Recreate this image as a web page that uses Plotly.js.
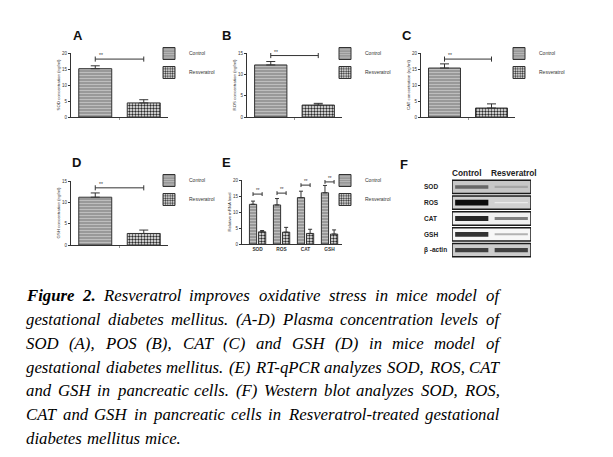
<!DOCTYPE html>
<html><head><meta charset="utf-8">
<script src="https://cdn.plot.ly/plotly-3.0.1.min.js"></script>
<style>body{margin:0;background:#fff}#chart{width:613px;height:457px}</style>
</head><body><div id="chart"></div>
<script>
// ---------------- DATA ----------------
const groups = ['Control', 'Resveratrol'];
// Panels A-D: plasma concentrations (ng/ml)
const plasmaLabels = ['SOD', 'ROS', 'CAT', 'GSH'];
const plasmaCtrl = [15.1, 12.2, 15.3, 11.2];
const plasmaCtrlErr = [0.9, 0.8, 1.3, 1.0];
const plasmaRes = [4.4, 2.8, 2.8, 2.7];
const plasmaResErr = [1.0, 0.4, 1.3, 0.8];
const plasmaSig = [18.1, 14.4, 18.1, 13.4];
const plasmaYMax = [20, 15, 20, 15];
const plasmaYTitles = ['SOD concentration (ng/ml)', 'ROS concentration (ng/ml)', 'CAT concentration (ng/ml)', 'GSH concentration (ng/ml)'];
const panelLetters = ['A', 'B', 'C', 'D', 'E', 'F'];
// Panel E: relative mRNA level
const mrnaGenes = ['SOD', 'ROS', 'CAT', 'GSH'];
const mrnaCtrl = [12.4, 12.2, 14.5, 16.0];
const mrnaCtrlErr = [1.0, 2.0, 2.0, 2.3];
const mrnaRes = [3.8, 3.7, 3.3, 3.1];
const mrnaResErr = [0.4, 1.5, 1.3, 1.3];
const mrnaSig = [15.6, 15.9, 18.4, 19.4];
const mrnaYTitle = 'Relative mRNA level';
// Panel F: western blot band intensities (0 = none, 1 = darkest)
const blotRows = ['SOD', 'ROS', 'CAT', 'GSH', 'β -actin'];
const blotCtrl = [0.6, 0.95, 0.85, 0.8, 0.75];
const blotRes = [0.35, 0.08, 0.5, 0.3, 0.75];
const blotBg = [0.22, 0.18, 0.06, 0.03, 0.2];
// Caption
const captionLines = [
  'Figure 2. Resveratrol improves oxidative stress in mice model of',
  'gestational diabetes mellitus. (A-D) Plasma concentration levels of',
  'SOD (A), POS (B), CAT (C) and GSH (D) in mice model of',
  'gestational diabetes mellitus. (E) RT-qPCR analyzes SOD, ROS, CAT',
  'and GSH in pancreatic cells. (F) Western blot analyzes SOD, ROS,',
  'CAT and GSH in pancreatic cells in Resveratrol-treated gestational',
  'diabetes mellitus mice.'
];
const captionBoldWords = 2;

// ---------------- STYLE / LAYOUT ----------------
const W = 613, H = 457;
const FONT = 'Liberation Sans, Arial, sans-serif';
const SERIF = 'Liberation Serif';
const px = v => v / W, py = v => 1 - v / H;
const INK = '#333';
const ctrlMarker = {color: '#a0a0a0', line: {color: INK, width: 1},
  pattern: {shape: '-', fgcolor: '#c2c2c2', bgcolor: '#999999', size: 3, solidity: 0.3}};
const resMarker = {color: '#ffffff', line: {color: INK, width: 1},
  pattern: {shape: '.', fgcolor: '#2a2a2a', bgcolor: '#ffffff', size: 3, solidity: 0.5}};

const traces = [], annotations = [], shapes = [];
const layout = {
  width: W, height: H, margin: {l: 0, r: 0, t: 0, b: 0},
  paper_bgcolor: '#fff', plot_bgcolor: 'rgba(0,0,0,0)',
  barmode: 'overlay', font: {family: FONT, color: INK}, showlegend: true,
  annotations, shapes
};
const sfx = n => (n === 1 ? '' : String(n));

function yAxisStyle(title) {
  return {showline: true, linecolor: INK, linewidth: 1, ticks: 'outside', ticklen: 2, tickwidth: 1,
    tickcolor: INK, tickfont: {size: 4.5, color: INK, family: FONT}, showgrid: false, zeroline: false,
    dtick: 5, title: {text: title, font: {size: 4.3, family: FONT, color: INK}, standoff: 1}, fixedrange: true};
}
function legendStyle(l, t) {
  return {x: px(l), y: py(t), xanchor: 'left', yanchor: 'top', bgcolor: 'rgba(0,0,0,0)',
    font: {size: 5, family: FONT, color: INK}, tracegroupgap: 0, itemclick: false, itemdoubleclick: false};
}
const plasmaBox = [[71, 168, 53, 117], [247, 342, 53, 117], [421, 515, 53, 117], [71, 168, 181, 245]];
const legendPos = [[149, 39], [325, 39], [499, 39], [149, 166], [325, 166]];
const letterPos = [[71, 25.5], [226, 25.5], [407, 25.5], [70, 163], [226, 162], [409.5, 164]];

// Panels A-D
plasmaLabels.forEach((lab, i) => {
  const n = i + 1, xa = 'x' + sfx(n), ya = 'y' + sfx(n), lg = 'legend' + sfx(n);
  const [l, r, t, b] = plasmaBox[i];
  layout['xaxis' + sfx(n)] = {domain: [px(l), px(r)], anchor: ya, range: [-0.5, 1.5], showline: true,
    linecolor: INK, linewidth: 1, ticks: 'outside', ticklen: 2, tickcolor: '#999', tickvals: [0.5],
    ticktext: [''], showgrid: false, zeroline: false, fixedrange: true};
  layout['yaxis' + sfx(n)] = Object.assign({domain: [py(b), py(t)], anchor: xa, range: [0, plasmaYMax[i]]},
    yAxisStyle(plasmaYTitles[i]));
  layout[lg] = legendStyle(legendPos[i][0], legendPos[i][1]);
  traces.push({type: 'bar', name: groups[0], x: [0], y: [plasmaCtrl[i]], width: 0.68, xaxis: xa, yaxis: ya,
    legend: lg, marker: ctrlMarker, hoverinfo: 'skip',
    error_y: {type: 'data', array: [plasmaCtrlErr[i]], arrayminus: [0], symmetric: false, width: 4.5, thickness: 1, color: INK}});
  traces.push({type: 'bar', name: groups[1], x: [1], y: [plasmaRes[i]], width: 0.68, xaxis: xa, yaxis: ya,
    legend: lg, marker: resMarker, hoverinfo: 'skip',
    error_y: {type: 'data', array: [plasmaResErr[i]], arrayminus: [0], symmetric: false, width: 4.5, thickness: 1, color: INK}});
  traces.push({type: 'scatter', mode: 'lines', x: [0, 1], y: [plasmaSig[i], plasmaSig[i]], xaxis: xa, yaxis: ya,
    showlegend: false, hoverinfo: 'skip', line: {color: INK, width: 1},
    error_y: {type: 'constant', value: plasmaYMax[i] * 0.04, width: 0, thickness: 1, color: INK}});
  annotations.push({xref: xa, yref: ya, x: 0.12, y: plasmaSig[i], yshift: 4, text: '**', showarrow: false,
    font: {size: 5, family: FONT, color: INK}});
});

// Panel E
(function () {
  const xa = 'x5', ya = 'y5', lg = 'legend5';
  layout.xaxis5 = {domain: [px(242), px(342)], anchor: ya, range: [-0.65, 3.52], showline: true, linecolor: INK,
    linewidth: 1, ticks: '', tickvals: mrnaGenes.map((g, i) => i), ticktext: mrnaGenes.map(g => '<b>' + g + '</b>'),
    tickfont: {size: 4.8, family: FONT, color: INK}, showgrid: false, zeroline: false, fixedrange: true};
  layout.yaxis5 = Object.assign({domain: [py(244), py(180)], anchor: xa, range: [0, 20]}, yAxisStyle(mrnaYTitle));
  layout[lg] = legendStyle(legendPos[4][0], legendPos[4][1]);
  const xs = mrnaGenes.map((g, i) => i);
  traces.push({type: 'bar', name: groups[0], x: xs, y: mrnaCtrl, width: 0.3, offset: -0.34, xaxis: xa, yaxis: ya,
    legend: lg, marker: ctrlMarker, hoverinfo: 'skip',
    error_y: {type: 'data', array: mrnaCtrlErr, arrayminus: mrnaCtrl.map(() => 0), symmetric: false, width: 2, thickness: 1, color: INK}});
  traces.push({type: 'bar', name: groups[1], x: xs, y: mrnaRes, width: 0.3, offset: 0.04, xaxis: xa, yaxis: ya,
    legend: lg, marker: resMarker, hoverinfo: 'skip',
    error_y: {type: 'data', array: mrnaResErr, arrayminus: mrnaRes.map(() => 0), symmetric: false, width: 2, thickness: 1, color: INK}});
  const bx = [], by = [];
  mrnaSig.forEach((h, i) => { bx.push(i - 0.19, i + 0.19, null); by.push(h, h, null); });
  traces.push({type: 'scatter', mode: 'lines', x: bx, y: by, xaxis: xa, yaxis: ya, showlegend: false,
    hoverinfo: 'skip', line: {color: INK, width: 1},
    error_y: {type: 'constant', value: 0.6, width: 0, thickness: 1, color: INK}});
  mrnaSig.forEach((h, i) => annotations.push({xref: xa, yref: ya, x: i, y: h, yshift: 3.5, text: '**',
    showarrow: false, font: {size: 4.5, family: FONT, color: INK}}));
})();

// Panel F (western blot)
(function () {
  layout.xaxis6 = {domain: [px(452), px(531)], anchor: 'y6', range: [-0.5, 1.5], visible: false, fixedrange: true};
  layout.yaxis6 = {domain: [py(258), py(179)], anchor: 'x6', range: [4.5, -0.5], visible: false, fixedrange: true};
  const gray = v => { const c = Math.round(255 * (1 - v)); return 'rgb(' + c + ',' + c + ',' + c + ')'; };
  blotRows.forEach((row, r) => {
    shapes.push({type: 'rect', xref: 'x6', yref: 'y6', x0: -0.5, x1: 1.5, y0: r - 0.42, y1: r + 0.42,
      fillcolor: gray(blotBg[r]), line: {color: '#1a1a1a', width: 1.5}, layer: 'below'});
    [blotCtrl[r], blotRes[r]].forEach((v, lane) => {
      traces.push({type: 'scatter', mode: 'lines', x: [lane - 0.42, lane + 0.42], y: [r, r], xaxis: 'x6', yaxis: 'y6',
        showlegend: false, hoverinfo: 'skip', line: {color: gray(v), width: 1.2 + 5 * Math.pow(v, 1.5)}});
    });
    annotations.push({xref: 'paper', yref: 'y6', x: px(422), y: r, xanchor: 'left', align: 'left', text: '<b>' + row + '</b>',
      showarrow: false, font: {size: 6.5, family: FONT, color: '#222'}});
  });
  groups.forEach((g, lane) => annotations.push({xref: 'x6', yref: 'paper', x: lane, y: py(173), xshift: lane === 0 ? -4.5 : 2.5,
    text: '<b>' + g + '</b>', showarrow: false, font: {size: 8.3, family: FONT, color: '#222'}}));
})();

// Panel letters
panelLetters.forEach((L, i) => annotations.push({xref: 'paper', yref: 'paper', x: px(letterPos[i][0]), y: py(letterPos[i][1]),
  text: '<b>' + L + '</b>', showarrow: false, font: {size: 13, family: FONT, color: '#111'}}));

// Caption, justified word by word (measured with an SVG text node, same engine as Plotly)
(function () {
  const NS = 'http://www.w3.org/2000/svg';
  const msvg = document.createElementNS(NS, 'svg');
  msvg.setAttribute('width', '10'); msvg.setAttribute('height', '10');
  msvg.style.position = 'absolute'; msvg.style.left = '-1000px'; msvg.style.top = '0';
  document.body.appendChild(msvg);
  const mt = document.createElementNS(NS, 'text');
  msvg.appendChild(mt);
  const measure = (w, bold, size) => {
    mt.setAttribute('style', "font-family:'" + SERIF + "';font-size:" + size + 'px;font-style:italic;font-weight:' + (bold ? 'bold' : 'normal') + ';white-space:pre');
    mt.textContent = w;
    return mt.getComputedTextLength();
  };
  const left = 26, right = 499, baseline0 = 301, lineStep = 23.9;
  let fs = 18.5;
  const wordsOf = captionLines.map(l => l.split(' '));
  function fits(size) {
    return wordsOf.slice(0, -1).every((ws, li) => {
      let tot = 0; ws.forEach((w, wi) => tot += measure(w, li === 0 && wi < captionBoldWords, size));
      return tot + (ws.length - 1) * size * 0.27 <= right - left;
    });
  }
  while (fs > 12 && !fits(fs)) fs -= 0.25;
  wordsOf.forEach((ws, li) => {
    const widths = ws.map((w, wi) => measure(w, li === 0 && wi < captionBoldWords, fs));
    const tot = widths.reduce((a, b) => a + b, 0);
    const last = li === wordsOf.length - 1;
    const gap = last ? fs * 0.3 : (right - left - tot) / (ws.length - 1);
    let xpos = left;
    const yc = baseline0 + li * lineStep - 0.34 * fs;
    ws.forEach((w, wi) => {
      const bold = li === 0 && wi < captionBoldWords;
      annotations.push({xref: 'paper', yref: 'paper', x: px(xpos - 2), y: py(yc), xanchor: 'left', yanchor: 'middle',
        align: 'left', showarrow: false, text: bold ? '<b><i>' + w + '</i></b>' : '<i>' + w + '</i>',
        font: {size: fs, family: SERIF, color: '#000'}});
      xpos += widths[wi] + gap;
    });
  });
  document.body.removeChild(msvg);
})();

Plotly.newPlot('chart', traces, layout, {displayModeBar: false, staticPlot: true});
</script></body></html>
